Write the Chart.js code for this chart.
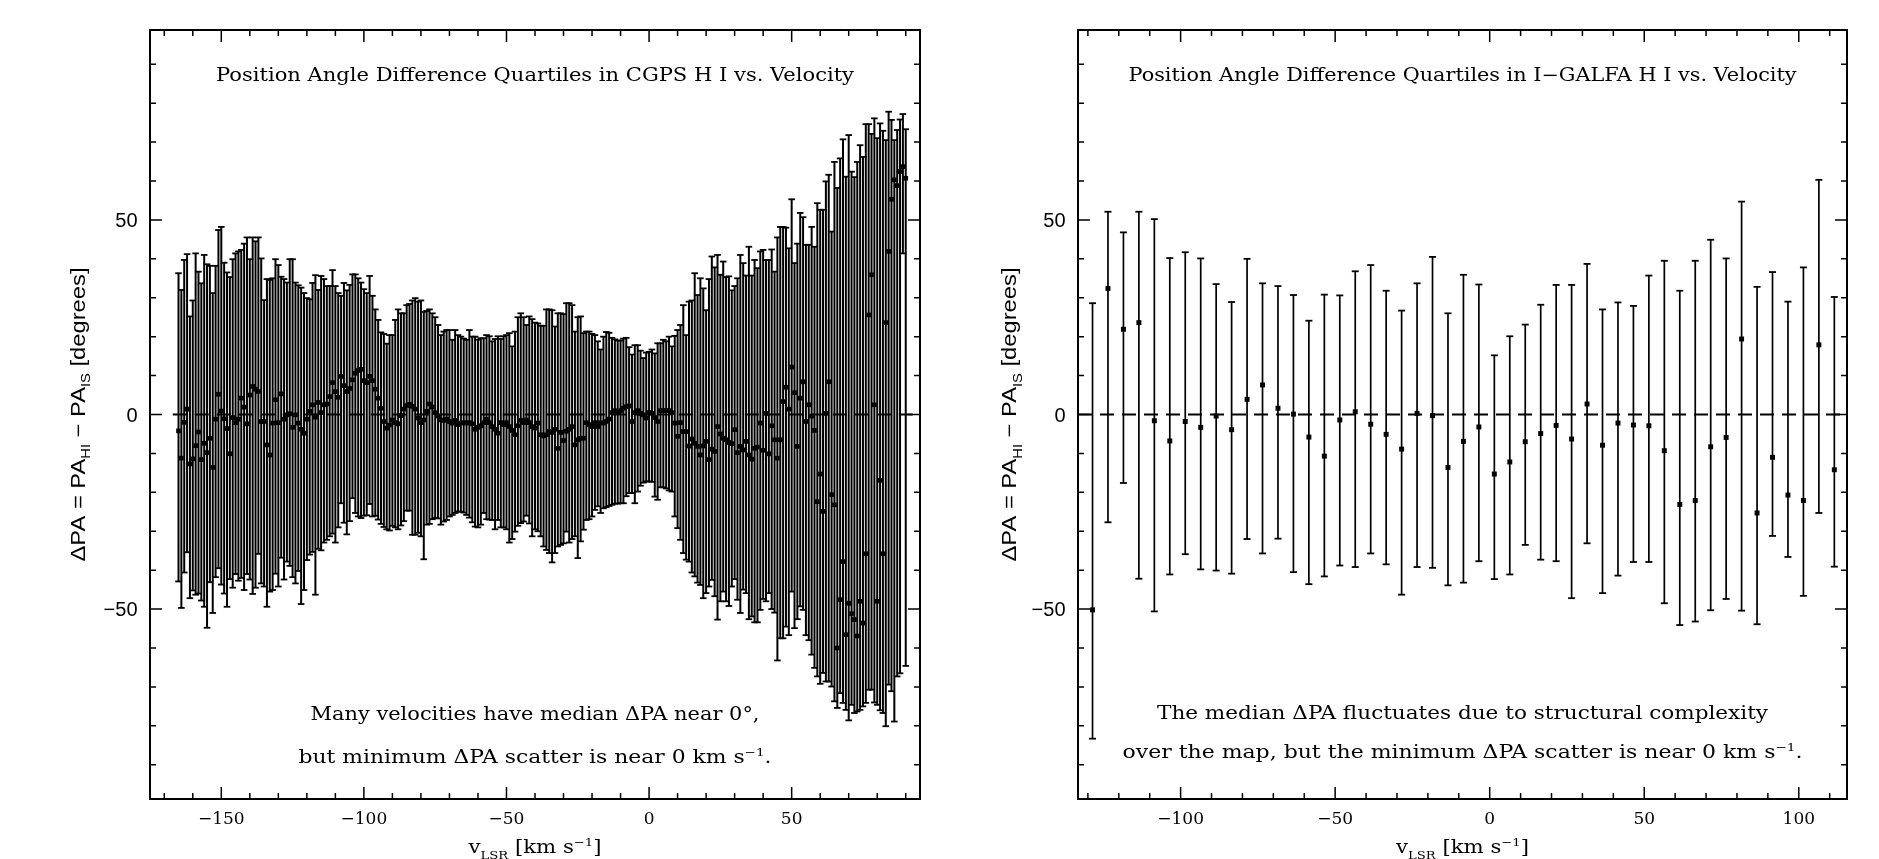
<!DOCTYPE html>
<html>
<head>
<meta charset="utf-8">
<script src="https://cdn.jsdelivr.net/npm/chart.js@4.4.1/dist/chart.umd.min.js"></script>
<style>
  html, body { margin: 0; padding: 0; background: #fff; overflow: hidden; }
  #wrap { position: relative; width: 1879px; height: 859px; }
  canvas { position: absolute; top: 0; }
  #cgps { left: 0; }
  #galfa { left: 960px; }
</style>
</head>
<body>
<div id="wrap">
  <canvas id="cgps" width="960" height="859"></canvas>
  <canvas id="galfa" width="919" height="859"></canvas>
</div>
<script>
// ---- CGPS panel data (km/s, degrees) ----
const cgpsVel = [
  -165,-164,-163,-162,-161,-160,-159,-158,-157,-156,-155,-154,-153,-152,-151,-150,
  -149,-148,-147,-146,-145,-144,-143,-142,-141,-140,-139,-138,-137,-136,-135,-134,
  -133,-132,-131,-130,-129,-128,-127,-126,-125,-124,-123,-122,-121,-120,-119,-118,
  -117,-116,-115,-114,-113,-112,-111,-110,-109,-108,-107,-106,-105,-104,-103,-102,
  -101,-100,-99,-98,-97,-96,-95,-94,-93,-92,-91,-90,-89,-88,-87,-86,
  -85,-84,-83,-82,-81,-80,-79,-78,-77,-76,-75,-74,-73,-72,-71,-70,
  -69,-68,-67,-66,-65,-64,-63,-62,-61,-60,-59,-58,-57,-56,-55,-54,
  -53,-52,-51,-50,-49,-48,-47,-46,-45,-44,-43,-42,-41,-40,-39,-38,
  -37,-36,-35,-34,-33,-32,-31,-30,-29,-28,-27,-26,-25,-24,-23,-22,
  -21,-20,-19,-18,-17,-16,-15,-14,-13,-12,-11,-10,-9,-8,-7,-6,
  -5,-4,-3,-2,-1,0,1,2,3,4,5,6,7,8,9,10,
  11,12,13,14,15,16,17,18,19,20,21,22,23,24,25,26,
  27,28,29,30,31,32,33,34,35,36,37,38,39,40,41,42,
  43,44,45,46,47,48,49,50,51,52,53,54,55,56,57,58,
  59,60,61,62,63,64,65,66,67,68,69,70,71,72,73,74,
  75,76,77,78,79,80,81,82,83,84,85,86,87,88,89,90
];
const cgpsUpper = [
  36.3,32.0,39.7,41.2,25.2,29.3,41.4,36.7,33.7,41.0,38.6,38.2,31.2,38.2,47.4,48.2,
  39.0,36.5,35.3,39.9,41.4,41.9,42.3,43.9,45.5,39.9,45.5,44.5,45.5,40.1,29.4,34.8,
  34.6,35.0,39.9,38.4,35.4,34.8,33.9,39.9,39.9,33.9,33.2,32.6,31.2,29.9,29.6,33.8,
  35.8,32.0,35.6,34.8,33.0,33.0,37.1,33.0,31.2,30.5,33.8,31.9,33.3,36.0,36.0,35.0,
  33.9,32.2,31.2,35.6,30.5,27.0,24.3,21.1,20.7,18.2,20.4,20.4,24.3,27.0,26.0,26.0,
  28.1,28.4,29.3,29.9,29.0,29.3,26.4,26.6,27.0,26.0,25.0,23.0,20.4,21.3,21.7,21.7,
  19.2,21.7,20.4,20.0,19.5,19.2,21.7,20.0,20.0,19.2,19.6,19.6,20.4,20.1,18.8,19.4,
  20.1,19.4,20.1,20.4,20.9,17.5,21.3,25.0,26.0,25.0,23.0,25.2,24.5,23.6,23.4,22.8,
  22.8,27.0,27.0,26.8,22.6,26.0,26.0,25.8,28.6,28.6,28.1,21.3,25.0,25.2,20.9,21.3,
  21.3,20.7,20.4,18.8,16.7,20.0,21.2,21.0,19.7,19.3,19.0,19.0,19.5,19.7,17.3,15.4,
  17.8,17.8,16.4,14.5,15.9,16.1,16.7,15.7,18.3,18.3,19.2,18.8,20.0,17.5,20.2,21.7,
  23.0,28.1,20.4,29.0,29.3,36.3,30.7,35.0,32.4,26.8,34.8,40.6,37.8,41.0,35.9,39.3,
  35.3,35.5,31.9,33.0,35.0,41.0,38.9,35.7,43.1,35.7,39.7,37.6,41.9,42.3,39.7,39.7,
  42.4,36.7,45.5,48.2,48.2,48.0,42.7,55.3,38.9,43.9,51.8,50.7,43.6,43.6,48.2,43.1,
  54.3,52.6,52.6,59.9,61.6,47.0,64.9,58.2,65.8,70.7,61.1,71.8,62.4,61.0,64.9,69.2,
  66.2,74.6,74.6,72.1,76.1,71.0,74.8,72.9,70.5,77.8,75.7,70.5,73.1,75.8,77.2,73.3
];
const cgpsMedian = [
  -4.2,-11.2,-2.0,1.4,-12.7,-11.4,-8.0,-4.5,-11.6,-7.4,-9.8,-6.1,-13.6,-1.2,5.2,0.9,
  -1.1,-3.6,-10.1,-0.8,-2.1,-1.2,4.2,1.9,-2.4,5.0,7.2,6.5,5.9,-1.8,-1.8,-7.8,
  -10.4,-2.2,3.8,-2.1,5.3,-1.2,-0.1,0.2,-3.3,-0.1,-2.2,-3.8,-4.8,-1.2,0.8,2.5,
  -0.7,3.1,0.5,2.5,2.7,4.6,8.2,5.9,4.4,9.8,7.4,5.9,6.7,8.9,10.6,11.3,
  11.6,8.7,8.2,9.8,8.7,6.5,4.2,1.6,-1.8,-3.5,-2.7,-1.4,-2.1,-2.4,-0.3,1.4,
  2.3,2.6,2.1,1.4,-0.9,-2.1,-1.4,0.8,2.7,1.9,0.5,-0.4,-1.4,-1.5,-1.2,-1.8,
  -2.2,-1.5,-2.6,-2.2,-2.1,-2.2,-2.1,-2.4,-3.8,-3.3,-2.9,-2.1,-1.2,-2.1,-3.1,-3.8,
  -4.8,-2.1,-2.6,-2.1,-3.1,-4.1,-5.2,-2.9,-1.5,-2.1,-1.4,-2.1,-3.1,-3.5,-2.2,-5.2,
  -5.5,-5.2,-4.3,-4.6,-3.8,-8.7,-4.6,-6.7,-4.3,-3.8,-3.1,-7.8,-6.5,-6.1,-6.1,-2.1,
  -2.6,-3.1,-2.1,-3.1,-2.1,-2.2,-1.8,-1.2,0.5,1.0,0.5,1.0,1.6,2.0,2.2,-1.8,
  0.5,1.0,0.3,-0.1,-0.9,0.5,0.3,-0.8,-1.8,1.0,1.0,1.0,1.0,0.5,-2.2,-5.6,
  -2.1,-4.4,-4.4,-8.1,-6.3,-7.4,-8.2,-10.4,-8.1,-6.9,-11.6,-8.9,-9.5,-3.1,-5.0,-6.1,
  -6.5,-7.2,-7.5,-3.9,-9.8,-8.2,-9.1,-6.9,-10.4,-11.5,-8.7,-8.4,-2.2,-9.2,0.3,-10.1,
  -2.9,-6.5,-11.2,-6.5,3.3,7.0,1.4,12.2,5.6,-8.2,4.2,8.4,-1.8,2.5,-0.4,-4.1,
  -22.4,-15.3,-24.9,0.3,8.4,-20.6,-23.2,-60.0,-47.6,-37.8,-56.6,-48.5,-51.2,-52.7,-56.9,-48.0,
  -53.6,-35.8,25.6,35.9,2.5,-48.0,-16.9,-35.8,23.6,41.9,55.3,60.3,58.8,62.4,63.7,60.7
];
const cgpsLower = [
  -42.9,-49.7,-40.6,-35.4,-47.2,-45.2,-46.3,-46.0,-47.8,-49.4,-54.8,-43.1,-51.0,-41.8,-39.5,-43.7,
  -46.0,-49.4,-42.3,-44.5,-41.0,-42.7,-42.0,-45.1,-41.0,-42.4,-46.1,-44.5,-35.8,-43.4,-44.2,-49.4,
  -45.5,-45.1,-40.9,-44.2,-36.8,-42.4,-37.8,-38.9,-41.8,-43.4,-40.2,-48.7,-45.1,-37.4,-36.0,-35.3,
  -46.3,-34.5,-34.9,-32.9,-32.2,-31.3,-30.6,-32.9,-29.0,-22.8,-27.8,-30.8,-27.4,-21.5,-25.3,-26.2,
  -26.6,-26.0,-25.9,-23.0,-26.2,-26.0,-27.0,-28.1,-28.9,-29.5,-29.8,-28.6,-29.0,-29.5,-28.5,-27.4,
  -24.7,-24.7,-30.9,-30.9,-30.4,-31.3,-37.2,-28.3,-28.1,-26.9,-26.6,-26.7,-28.3,-27.5,-27.1,-26.2,
  -25.8,-25.3,-24.9,-25.0,-25.2,-25.8,-26.5,-27.7,-28.8,-29.0,-28.3,-25.3,-26.9,-27.0,-27.1,-29.5,
  -27.1,-29.0,-29.0,-29.5,-32.9,-32.0,-30.1,-28.6,-27.9,-27.5,-26.0,-28.0,-31.3,-29.5,-30.0,-31.3,
  -33.9,-34.8,-35.6,-38.0,-35.6,-33.9,-33.5,-33.1,-30.1,-32.9,-32.0,-31.3,-36.9,-32.6,-29.6,-27.1,
  -26.9,-26.2,-24.5,-23.6,-25.3,-24.1,-23.8,-23.5,-23.2,-22.9,-22.9,-22.8,-22.8,-21.0,-20.2,-20.2,
  -22.8,-19.8,-18.3,-17.5,-17.2,-17.2,-17.3,-21.1,-21.9,-18.7,-18.7,-19.0,-19.5,-19.8,-26.2,-29.2,
  -32.2,-35.6,-37.3,-37.8,-40.6,-41.6,-43.2,-43.8,-47.2,-45.9,-44.2,-42.5,-46.7,-52.7,-48.0,-45.5,
  -48.0,-49.2,-44.2,-42.3,-47.6,-51.0,-45.0,-45.9,-52.6,-51.9,-53.4,-53.4,-50.2,-47.4,-48.0,-45.9,
  -50.0,-50.9,-63.2,-57.5,-57.5,-54.5,-56.7,-45.5,-54.9,-52.6,-49.3,-50.2,-56.7,-58.0,-61.7,-65.1,
  -67.3,-69.2,-66.4,-68.6,-68.6,-69.9,-73.7,-75.4,-71.6,-74.1,-75.9,-78.6,-74.6,-76.7,-76.3,-75.9,
  -75.0,-74.1,-70.7,-70.7,-74.0,-74.6,-76.0,-76.7,-80.1,-69.4,-71.1,-78.9,-67.3,-66.5,41.4,-64.6
];

// ---- I-GALFA panel data ----
const galfaVel = [
  -128.5,-123.5,-118.5,-113.5,-108.5,-103.5,-98.5,-93.5,-88.5,-83.5,-78.5,-73.5,
  -68.5,-63.5,-58.5,-53.5,-48.5,-43.5,-38.5,-33.5,-28.5,-23.5,-18.5,-13.5,-8.5,
  -3.5,1.5,6.5,11.5,16.5,21.5,26.5,31.5,36.5,41.5,46.5,51.5,56.5,61.5,66.5,71.5,
  76.5,81.5,86.5,91.5,96.5,101.5,106.5,111.5
];
const galfaUpper = [
  28.6,52.1,46.8,52.1,50.2,40.2,41.7,40.1,33.5,28.9,40.0,33.7,33.0,30.7,24.1,30.8,
  30.6,36.8,38.4,31.8,26.7,33.7,40.5,26.0,35.9,33.4,15.2,20.1,23.1,28.2,33.3,33.3,
  38.7,27.0,28.8,27.9,35.7,39.5,31.8,39.5,44.9,40.1,54.7,32.8,36.6,29.0,37.8,60.3,30.2
];
const galfaMedian = [
  -50.2,32.4,21.9,23.6,-1.6,-6.8,-1.8,-3.3,-0.4,-3.9,3.9,7.6,1.6,0.1,-5.8,-10.7,
  -1.4,0.7,-2.5,-5.1,-8.9,0.3,-0.3,-13.6,-6.9,-3.2,-15.3,-12.2,-7.0,-4.9,-2.8,-6.3,
  2.7,-7.9,-2.2,-2.7,-2.9,-9.3,-23.1,-22.1,-8.3,-5.9,19.4,-25.3,-11.0,-20.7,-22.1,17.9,-14.2
];
const galfaLower = [
  -83.3,-27.7,-17.6,-42.2,-50.6,-41.1,-35.9,-39.8,-40.1,-40.9,-32.0,-35.7,-31.9,-40.5,-43.6,-41.6,
  -38.8,-39.2,-35.7,-38.5,-46.3,-39.2,-39.4,-43.9,-43.2,-37.7,-42.3,-41.1,-33.5,-37.3,-37.7,-47.2,
  -33.1,-45.9,-41.4,-37.9,-37.9,-48.5,-54.1,-53.2,-50.3,-47.4,-50.4,-53.9,-31.2,-36.6,-46.6,-25.3,-39.1
];

// axis ticks
const cgpsXTicks = [-150, -100, -50, 0, 50];
const galfaXTicks = [-100, -50, 0, 50, 100];
const yTicks = [-50, 0, 50];

const SERIF = '"DejaVu Serif", "Liberation Serif", serif';
const SANS = '"Liberation Sans", Arial, Helvetica, sans-serif';

// draw text made of normal / sub / sup pieces, optionally squeezed to a width
function drawRich(ctx, parts, x, y, opt) {
  const size = opt.size;
  const fontOf = p => (p[1] === 'n' ? size : size * 0.62) + 'px ' + opt.family;
  let w = 0;
  parts.forEach(p => { ctx.font = fontOf(p); w += ctx.measureText(p[0]).width; });
  const sx = opt.width ? opt.width / w : 1;
  ctx.save();
  ctx.translate(x, y);
  if (opt.rotate) ctx.rotate(opt.rotate);
  ctx.scale(sx, 1);
  let cx = opt.align === 'right' ? -w : (opt.align === 'left' ? 0 : -w / 2);
  ctx.fillStyle = '#000';
  ctx.textAlign = 'left';
  ctx.textBaseline = 'alphabetic';
  const base = size * 0.36;
  parts.forEach(p => {
    ctx.font = fontOf(p);
    const dy = p[1] === 'sub' ? size * 0.28 : (p[1] === 'sup' ? -size * 0.42 : 0);
    ctx.fillText(p[0], cx, base + dy);
    cx += ctx.measureText(p[0]).width;
  });
  ctx.restore();
}

function numLabel(v) {
  return v < 0 ? '\u2212' + Math.abs(v) : String(v);
}

function framePlugin(cfg) {
  return {
    id: 'frame' + cfg.name,
    beforeDatasetsDraw(chart) {
      const { ctx, chartArea: a, scales: { x, y } } = chart;
      const y0 = y.getPixelForValue(0);
      ctx.save();
      ctx.strokeStyle = '#000';
      ctx.lineWidth = 2;
      ctx.setLineDash(cfg.dash);
      ctx.beginPath();
      ctx.moveTo(x.getPixelForValue(cfg.dashFrom), y0);
      ctx.lineTo(a.right, y0);
      ctx.stroke();
      ctx.restore();
    },
    afterDatasetsDraw(chart) {
      const { ctx, chartArea: a, scales: { x, y } } = chart;
      ctx.save();
      ctx.strokeStyle = '#000';
      ctx.lineWidth = 2;
      ctx.strokeRect(a.left, a.top, a.right - a.left, a.bottom - a.top);

      // inward ticks on all four sides
      ctx.lineWidth = 1.5;
      ctx.beginPath();
      for (let v = Math.ceil(x.min / 10) * 10; v <= x.max; v += 10) {
        const px = x.getPixelForValue(v);
        const len = cfg.xTicks.includes(v) ? 12 : 6;
        ctx.moveTo(px, a.bottom); ctx.lineTo(px, a.bottom - len);
        ctx.moveTo(px, a.top); ctx.lineTo(px, a.top + len);
      }
      for (let v = Math.ceil(y.min / 10) * 10; v <= y.max; v += 10) {
        const py = y.getPixelForValue(v);
        const len = yTicks.includes(v) ? 12 : 6;
        ctx.moveTo(a.left, py); ctx.lineTo(a.left + len, py);
        ctx.moveTo(a.right, py); ctx.lineTo(a.right - len, py);
      }
      ctx.stroke();
      ctx.restore();

      cfg.xTicks.forEach(v => {
        drawRich(ctx, [[numLabel(v), 'n']], x.getPixelForValue(v), a.bottom + 19,
          { size: 17, family: SERIF });
      });
      yTicks.forEach(v => {
        drawRich(ctx, [[numLabel(v), 'n']], a.left - 12.5, y.getPixelForValue(v),
          { size: 20, family: SANS, align: 'right' });
      });

      const cx = (a.left + a.right) / 2;
      drawRich(ctx, [[cfg.title, 'n']], cx, 75, { size: 18, family: SERIF, width: cfg.titleW });
      cfg.notes.forEach(n => {
        drawRich(ctx, n.parts, cx, n.y, { size: 18, family: SERIF, width: n.w });
      });
      drawRich(ctx, [['v', 'n'], ['LSR', 'sub'], [' [km s', 'n'], ['\u22121', 'sup'], [']', 'n']],
        cx, 847, { size: 18, family: SERIF, width: 133 });
      drawRich(ctx, [['\u0394PA = PA', 'n'], ['HI', 'sub'], [' \u2212 PA', 'n'], ['IS', 'sub'], [' [degrees]', 'n']],
        a.left - cfg.yLabOff, (a.top + a.bottom) / 2,
        { size: 20, family: SANS, width: 294, rotate: -Math.PI / 2 });
    }
  };
}

function makePanel(canvasId, vel, lo, med, hi, cfg) {
  const bars = vel.map((v, i) => ({ x: v, y: [lo[i], hi[i]] }));
  const caps = [];
  vel.forEach((v, i) => { caps.push({ x: v, y: hi[i] }); caps.push({ x: v, y: lo[i] }); });
  const mids = vel.map((v, i) => ({ x: v, y: med[i] }));

  return new Chart(document.getElementById(canvasId), {
    type: 'bar',
    data: {
      datasets: [
        {
          type: 'scatter', data: mids, order: 0,
          pointStyle: 'rect', pointRadius: cfg.medR, pointBackgroundColor: '#000',
          pointBorderWidth: 0, pointHoverRadius: cfg.medR
        },
        {
          type: 'scatter', data: caps, order: 1,
          pointStyle: 'line', pointRadius: cfg.capR, pointBorderColor: '#000',
          pointBorderWidth: 1.8, pointHoverRadius: cfg.capR
        },
        {
          type: 'bar', data: bars, order: 2,
          backgroundColor: '#000', borderWidth: 0, barThickness: cfg.barW,
          inflateAmount: 0, grouped: false
        }
      ]
    },
    options: {
      responsive: false,
      animation: false,
      events: [],
      layout: { padding: cfg.pad },
      plugins: { legend: { display: false }, tooltip: { enabled: false } },
      scales: {
        x: { type: 'linear', min: cfg.xMin, max: cfg.xMax, offset: false, display: false },
        y: { type: 'linear', min: -98.8, max: 98.8, display: false }
      }
    },
    plugins: [framePlugin(cfg)]
  });
}

makePanel('cgps', cgpsVel, cgpsLower, cgpsMedian, cgpsUpper, {
  name: 'cgps', xMin: -175, xMax: 95, xTicks: cgpsXTicks,
  pad: { left: 150, right: 40, top: 30, bottom: 60 },
  barW: 2.0, capR: 3.3, medR: 3.3,
  dash: [14, 8], dashFrom: -167, yLabOff: 72.5,
  title: 'Position Angle Difference Quartiles in CGPS H I vs. Velocity', titleW: 638,
  notes: [
    { parts: [['Many velocities have median \u0394PA near 0\u00b0,', 'n']], y: 714, w: 449 },
    { parts: [['but minimum \u0394PA scatter is near 0 km s', 'n'], ['\u22121', 'sup'], ['.', 'n']], y: 757, w: 473 }
  ]
});

makePanel('galfa', galfaVel, galfaLower, galfaMedian, galfaUpper, {
  name: 'galfa', xMin: -133.2, xMax: 115.6, xTicks: galfaXTicks,
  pad: { left: 118, right: 32, top: 30, bottom: 60 },
  barW: 1.7, capR: 3.5, medR: 3.5,
  dash: [14, 8], dashFrom: -133.2, yLabOff: 69,
  title: 'Position Angle Difference Quartiles in I\u2212GALFA H I vs. Velocity', titleW: 668,
  notes: [
    { parts: [['The median \u0394PA fluctuates due to structural complexity', 'n']], y: 713, w: 611 },
    { parts: [['over the map, but the minimum \u0394PA scatter is near 0 km s', 'n'], ['\u22121', 'sup'], ['.', 'n']], y: 752, w: 680 }
  ]
});
</script>
</body>
</html>
